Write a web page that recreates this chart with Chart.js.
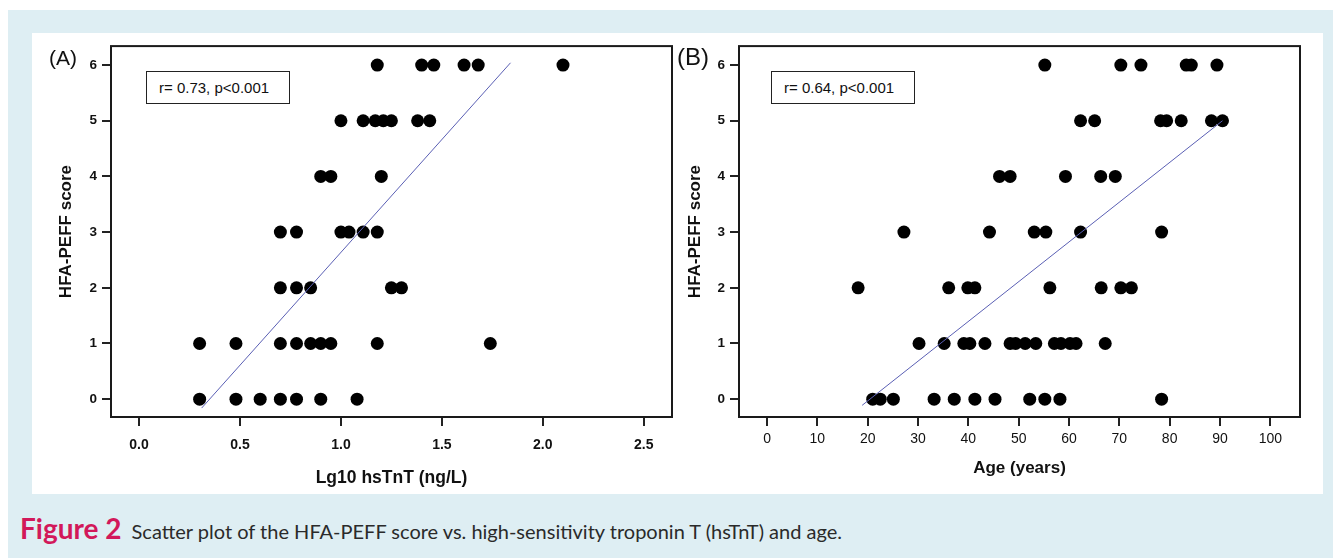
<!DOCTYPE html>
<html>
<head>
<meta charset="utf-8">
<script src="https://cdn.jsdelivr.net/npm/chart.js@4.4.1/dist/chart.umd.min.js"></script>
<style>
  body { margin: 0; width: 1333px; height: 558px; background: #fff; position: relative; overflow: hidden; font-family: "Liberation Sans", Arial, sans-serif; }
  .frame { position: absolute; left: 8px; top: 10px; right: 0; bottom: 0; background: #deeef3; }
  .panel { position: absolute; left: 32px; top: 33px; width: 1291px; height: 461px; background: #fff; }
  canvas { position: absolute; top: 33px; }
  #chartA { left: 32px; }
  #chartB { left: 672px; }
  .tag { position: absolute; color: #111; line-height: 1; }
  .stat { position: absolute; top: 71px; width: 144px; height: 33px; box-sizing: border-box; border: 1px solid #222;
          background: #fff; font-size: 15px; line-height: 31px; padding-left: 12px; color: #111; }
  .caption { position: absolute; left: 20px; top: 512px; font-family: Lato, "Open Sans", sans-serif; color: #2a2a2a; font-size: 20px; white-space: nowrap; line-height: 32px; }
  .caption b { color: #d2185a; font-size: 28px; margin-right: 10px; }
</style>
</head>
<body>
<div class="frame"></div>
<div class="panel"></div>
<canvas id="chartA" width="660" height="461"></canvas>
<canvas id="chartB" width="651" height="461"></canvas>
<div class="tag" style="left:49px; top:47px; font-size:21px;">(A)</div>
<div class="tag" style="left:677px; top:45px; font-size:24px;">(B)</div>
<div class="stat" style="left:146px;">r= 0.73, p&lt;0.001</div>
<div class="stat" style="left:771px;">r= 0.64, p&lt;0.001</div>
<div class="caption"><b>Figure 2</b>Scatter plot of the HFA-PEFF score vs. high-sensitivity troponin T (hsTnT) and age.</div>

<script>
// (A) Lg10 hsTnT vs HFA-PEFF score
const lgTnT = [
  1.18, 1.40, 1.46, 1.61, 1.68, 2.10,
  1.00, 1.11, 1.17, 1.21, 1.25, 1.38, 1.44,
  0.90, 0.95, 1.20,
  0.70, 0.78, 1.00, 1.04, 1.11, 1.18,
  0.70, 0.78, 0.85, 1.25, 1.30,
  0.30, 0.48, 0.70, 0.78, 0.85, 0.90, 0.95, 1.18, 1.74,
  0.30, 0.48, 0.60, 0.70, 0.78, 0.90, 1.08
];
const scoreA = [
  6, 6, 6, 6, 6, 6,
  5, 5, 5, 5, 5, 5, 5,
  4, 4, 4,
  3, 3, 3, 3, 3, 3,
  2, 2, 2, 2, 2,
  1, 1, 1, 1, 1, 1, 1, 1, 1,
  0, 0, 0, 0, 0, 0, 0
];

// (B) age vs HFA-PEFF score
const age = [
  55.2, 70.3, 74.3, 83.3, 84.3, 89.4,
  62.3, 65.1, 78.2, 79.4, 82.3, 88.3, 90.5,
  46.2, 48.3, 59.3, 66.3, 69.2,
  27.2, 44.2, 53.1, 55.4, 62.3, 78.4,
  18.1, 36.1, 39.9, 41.3, 56.2, 66.4, 70.3, 72.4,
  30.2, 35.2, 39.1, 40.3, 43.3, 48.3, 49.4, 51.3, 53.4, 57.1, 58.4, 60.2, 61.4, 67.2,
  21.0, 22.5, 25.1, 33.2, 37.2, 41.3, 45.3, 52.2, 55.2, 58.2, 78.4
];
const scoreB = [
  6, 6, 6, 6, 6, 6,
  5, 5, 5, 5, 5, 5, 5,
  4, 4, 4, 4, 4,
  3, 3, 3, 3, 3, 3,
  2, 2, 2, 2, 2, 2, 2, 2,
  1, 1, 1, 1, 1, 1, 1, 1, 1, 1, 1, 1, 1, 1,
  0, 0, 0, 0, 0, 0, 0, 0, 0, 0, 0
];

// regression lines (end points)
const fitAx = [0.31, 1.84];
const fitAy = [-0.16, 6.04];
const fitBx = [18.9, 90.5];
const fitBy = [-0.11, 5.0];

// tick labels
const xTicksA = [0, 0.5, 1, 1.5, 2, 2.5];
const xTicksB = [0, 10, 20, 30, 40, 50, 60, 70, 80, 90, 100];
const yTicks = [0, 1, 2, 3, 4, 5, 6];

Chart.defaults.font.family = '"Liberation Sans", Arial, sans-serif';
Chart.defaults.color = '#111';

const toPoints = (xs, ys) => xs.map((x, i) => ({ x: x, y: ys[i] }));

// closed frame round the plot area
const frameBox = {
  id: 'frameBox',
  afterDraw(chart) {
    const { ctx, chartArea: a } = chart;
    ctx.save();
    ctx.strokeStyle = '#1a1a1a';
    ctx.lineWidth = 2;
    ctx.strokeRect(a.left, a.top, a.right - a.left, a.bottom - a.top);
    ctx.restore();
  }
};

function makePanel(id, p) {
  return new Chart(document.getElementById(id), {
    type: 'scatter',
    data: {
      datasets: [{
        type: 'line',
        data: toPoints(p.fitX, p.fitY),
        borderColor: '#5a5fb4',
        borderWidth: 1,
        pointRadius: 0,
        fill: false
      }, {
        data: toPoints(p.xs, p.ys),
        backgroundColor: '#000',
        borderWidth: 0,
        pointRadius: 6.5,
        pointHoverRadius: 6.5
      }]
    },
    options: {
      responsive: false,
      animation: false,
      events: [],
      layout: { padding: { top: 12, right: p.padRight, left: 0, bottom: 0 } },
      plugins: { legend: { display: false }, tooltip: { enabled: false } },
      scales: {
        x: {
          type: 'linear',
          min: p.xMin,
          max: p.xMax,
          afterBuildTicks: s => { s.ticks = p.xTicks.map(v => ({ value: v })); },
          afterFit: s => { s.height = 77; },
          border: { display: false },
          grid: { drawOnChartArea: false, drawTicks: true, tickLength: 9, color: '#222', lineWidth: 2 },
          ticks: {
            padding: p.xTickPad,
            maxRotation: 0,
            font: p.xTickFont,
            callback: p.xFormat
          },
          title: {
            display: true,
            text: p.xTitle,
            font: { size: p.xTitleSize, weight: 'bold' },
            padding: { top: 0, bottom: p.xTitlePad }
          }
        },
        y: {
          type: 'linear',
          min: -0.32,
          max: 6.34,
          afterBuildTicks: s => { s.ticks = yTicks.map(v => ({ value: v })); },
          afterFit: s => { s.width = p.yWidth; },
          border: { display: false },
          grid: { drawOnChartArea: false, drawTicks: true, tickLength: 9, color: '#222', lineWidth: 2 },
          ticks: { padding: 5, font: { size: 13.5, weight: 'bold' } },
          title: {
            display: true,
            text: 'HFA-PEFF score',
            font: { size: 17, weight: 'bold' },
            padding: { top: p.yTitlePad, bottom: 0 }
          }
        }
      }
    },
    plugins: [frameBox]
  });
}

makePanel('chartA', {
  xs: lgTnT, ys: scoreA, fitX: fitAx, fitY: fitAy,
  xMin: -0.139, xMax: 2.64, xTicks: xTicksA,
  xFormat: v => Number(v).toFixed(1),
  xTickFont: { size: 14, weight: 'bold' }, xTickPad: 11,
  xTitle: 'Lg10 hsTnT (ng/L)', xTitleSize: 17.5, xTitlePad: 5,
  yWidth: 79, yTitlePad: 24.5, padRight: 20
});

makePanel('chartB', {
  xs: age, ys: scoreB, fitX: fitBx, fitY: fitBy,
  xMin: -5.57, xMax: 105.9, xTicks: xTicksB,
  xFormat: v => String(v),
  xTickFont: { size: 14 }, xTickPad: 5,
  xTitle: 'Age (years)', xTitleSize: 17, xTitlePad: 15,
  yWidth: 67, yTitlePad: 13.5, padRight: 23
});
</script>
</body>
</html>
